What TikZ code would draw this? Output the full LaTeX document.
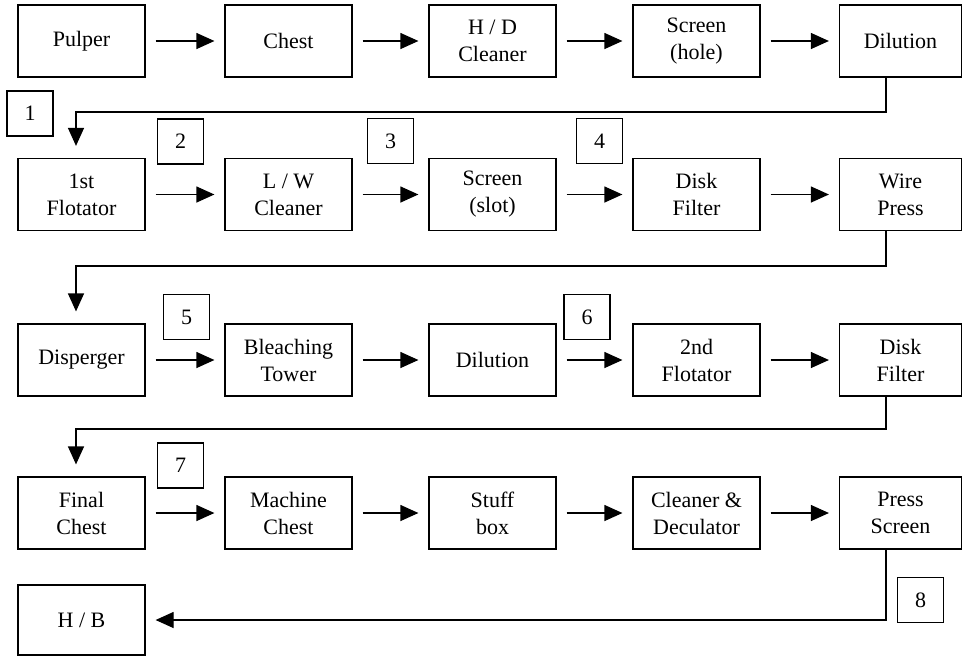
\documentclass[tikz,border=0pt]{standalone}
\usepackage{fontspec}
\setmainfont{Liberation Serif}
\usetikzlibrary{arrows.meta}

\begin{document}
\begin{tikzpicture}[x=1pt,y=-1pt,
  every node/.style={font=\fontsize{22}{27}\selectfont},
  box/.style={draw, line width=1.2pt, minimum width=127pt, minimum height=72pt,
              inner sep=0pt, align=center},
  lastbox/.style={box, minimum width=122pt},
  tag/.style={draw, line width=1.1pt, minimum width=46pt, minimum height=45pt, inner sep=0pt},
  arr/.style={line width=1.2pt, -{Triangle[length=18pt,width=16pt]}},
  flow/.style={arr, shorten <=10pt, shorten >=10pt},
  link/.style={line width=1.2pt}]

\useasboundingbox (0,0) rectangle (963,657);

% row 1
\node[box] (c11) at (81.5,41) {Pulper};
\node[box] (c12) at (288.5,41) {Chest};
\node[box] (c13) at (492.5,41) {H / D\\Cleaner};
\node[box] (c14) at (696.5,41) {Screen\\(hole)};
\node[lastbox] (c15) at (900.5,41) {Dilution};

% row 2
\node[box] (c21) at (81.5,194.5) {1st\\Flotator};
\node[box] (c22) at (288.5,194.5) {L / W\\Cleaner};
\node[box] (c23) at (492.5,194.5) {Screen\\(slot)};
\node[box] (c24) at (696.5,194.5) {Disk\\Filter};
\node[lastbox] (c25) at (900.5,194.5) {Wire\\Press};

% row 3
\node[box] (c31) at (81.5,360) {Disperger};
\node[box] (c32) at (288.5,360) {Bleaching\\Tower};
\node[box] (c33) at (492.5,360) {Dilution};
\node[box] (c34) at (696.5,360) {2nd\\Flotator};
\node[lastbox] (c35) at (900.5,360) {Disk\\Filter};

% row 4
\node[box] (c41) at (81.5,513) {Final\\Chest};
\node[box] (c42) at (288.5,513) {Machine\\Chest};
\node[box] (c43) at (492.5,513) {Stuff\\box};
\node[box] (c44) at (696.5,513) {Cleaner \&\\Deculator};
\node[lastbox] (c45) at (900.5,513) {Press\\Screen};

% row 5
\node[box, minimum height=70pt] (hb) at (81.5,620) {H / B};

% stage numbers
\node[tag] (l1) at (30,113.5) {1};
\node[tag] (l2) at (180.5,141.5) {2};
\node[tag] (l3) at (390.5,141) {3};
\node[tag] (l4) at (599.5,141) {4};
\node[tag] (l5) at (186.5,317) {5};
\node[tag] (l6) at (587,317) {6};
\node[tag] (l7) at (180.5,465.5) {7};
\node[tag] (l8) at (920.5,600) {8};

% flow within each row
\foreach \r in {1,2,3,4}{
  \draw[flow] (c\r1.east) -- (c\r2.west);
  \draw[flow] (c\r2.east) -- (c\r3.west);
  \draw[flow] (c\r3.east) -- (c\r4.west);
  \draw[flow] (c\r4.east) -- (c\r5.west);
}

% return lines between rows
\coordinate (up) at (886,0);
\coordinate (dn) at (76,0);
\draw[arr, shorten >=12pt] (c15.south -| up) |- (76,112) -- (c21.north -| dn);
\draw[arr, shorten >=12pt] (c25.south -| up) |- (76,266) -- (c31.north -| dn);
\draw[arr, shorten >=12pt] (c35.south -| up) |- (76,429) -- (c41.north -| dn);
\draw[arr, shorten >=10pt] (c45.south -| up) |- (hb.east);

\end{tikzpicture}
\end{document}
